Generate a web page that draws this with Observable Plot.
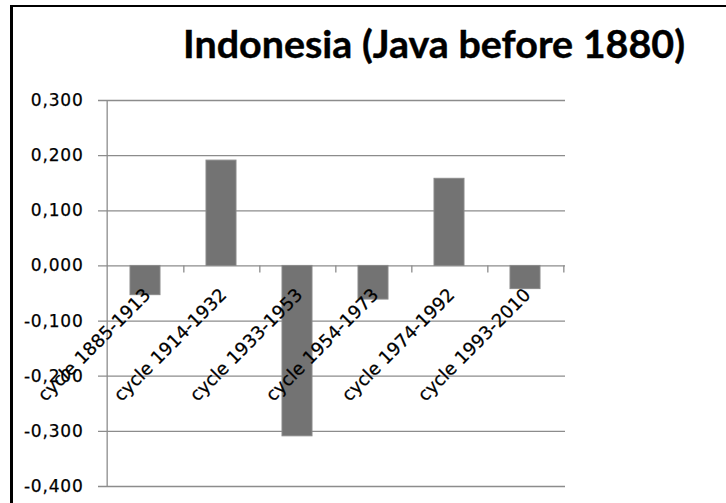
<!DOCTYPE html>
<html><head><meta charset="utf-8">
<script src="https://cdn.jsdelivr.net/npm/d3@7"></script>
<script src="https://cdn.jsdelivr.net/npm/@observablehq/plot@0.6"></script>
<style>
body{margin:0;background:#fff;width:726px;height:503px;overflow:hidden;position:relative}
#frame{position:absolute;left:10px;top:5px;width:800px;height:600px;border-left:3px solid #000;border-top:2px solid #000;box-sizing:border-box}
#title{position:absolute;left:0;top:0}
#chart{position:absolute;left:0;top:80px}
#chart svg text{font-family:"DejaVu Sans",sans-serif !important;fill:#000;stroke:#000;stroke-width:0.25px}
g[aria-label="y-axis tick label"] text{font-size:17px !important;letter-spacing:0.8px}
g[aria-label="text"] text{font-size:18px !important;letter-spacing:0px}
</style></head><body>
<div id="frame"></div>
<svg id="title" width="726" height="80"><text id="titletext" x="183" y="58" textLength="502" lengthAdjust="spacingAndGlyphs" font-family="Lato" font-weight="bold" font-size="38" fill="#000" stroke="#000" stroke-width="0.4"></text></svg>
<div id="chart"></div>
<script>
const title = "Indonesia (Java before 1880)";
const categories = ["cycle 1885-1913", "cycle 1914-1932", "cycle 1933-1953", "cycle 1954-1973", "cycle 1974-1992", "cycle 1993-2010"];
const values = [-0.053, 0.191, -0.309, -0.061, 0.158, -0.042];
const yTicks = [0.3, 0.2, 0.1, 0, -0.1, -0.2, -0.3, -0.4];

document.getElementById("titletext").textContent = title;

const data = categories.map((c, i) => ({category: c, value: values[i]}));
const W = 726, H = 423, mL = 105, mR = 161, mT = 20, mB = 17;
const bw = (W - mL - mR) / categories.length;
const fmt = d => d3.format(".3f")(d).replace(".", ",").replace("\u2212", "-");
const gridColor = "#8c8c8c";

const plot = Plot.plot({
  width: W, height: H,
  marginLeft: mL, marginRight: mR, marginTop: mT, marginBottom: mB,
  style: {fontFamily: "DejaVu Sans", fontSize: "16px", color: "#000", background: "transparent"},
  x: {domain: categories, padding: 0, axis: null},
  y: {domain: [-0.4, 0.3], axis: null},
  marks: [
    Plot.ruleY(yTicks, {stroke: gridColor, strokeWidth: 1.3, insetLeft: -7}),
    Plot.axisY({ticks: yTicks, tickSize: 0, tickPadding: 22, tickFormat: fmt, fill: "#000", label: null}),
    Plot.barY(data, {x: "category", y: "value", fill: "#737373", stroke: "#8a8a8a", insetLeft: 23, insetRight: 23}),
    Plot.ruleX([categories[0]], {dx: -bw / 2, y1: -0.4, y2: 0.3, stroke: gridColor, strokeWidth: 1.3}),
    Plot.ruleX(categories, {dx: bw / 2, y1: 0, y2: 0, insetBottom: -7, stroke: gridColor, strokeWidth: 1.3}),
    Plot.text(data, {x: "category", y: 0, text: "category", rotate: -45, textAnchor: "end", dx: 2, dy: 26, fill: "#000", fontSize: 18})
  ]
});
document.getElementById("chart").appendChild(plot);
</script>
</body></html>
